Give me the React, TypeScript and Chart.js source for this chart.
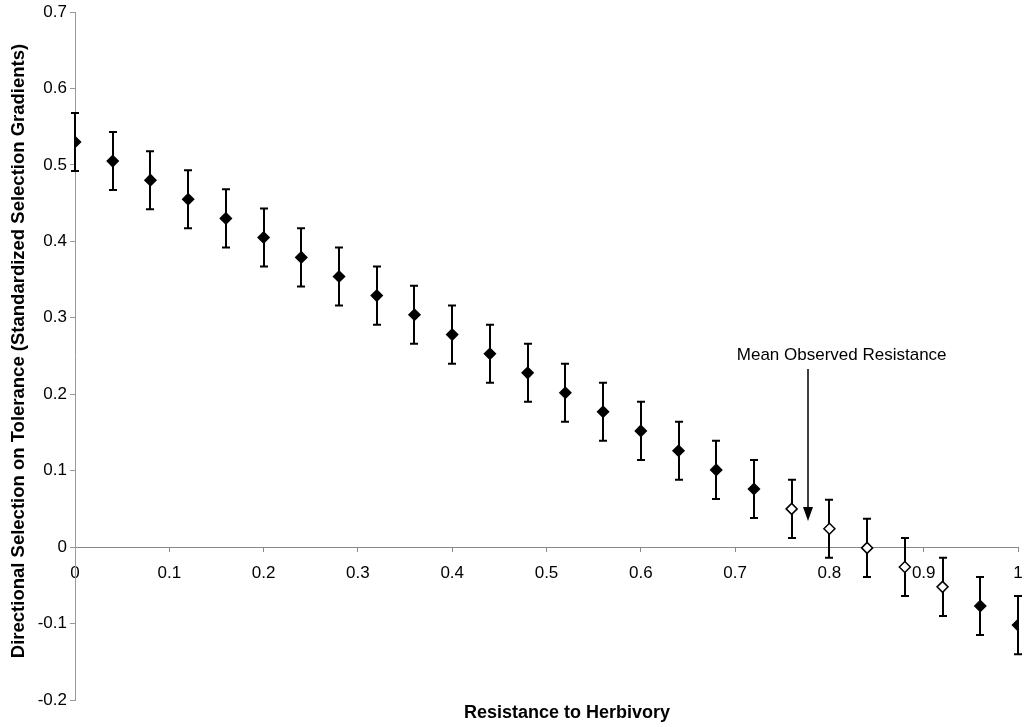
import React, { useEffect, useRef } from "react";
import { Chart, registerables } from "chart.js";

Chart.register(...registerables);

// Resistance to herbivory (x) for each estimate
const resistance = [
  0, 0.04, 0.08, 0.12, 0.16, 0.2, 0.24, 0.28, 0.32, 0.36, 0.4, 0.44, 0.48,
  0.52, 0.56, 0.6, 0.64, 0.68, 0.72, 0.76, 0.8, 0.84, 0.88, 0.92, 0.96, 1.0,
];
// Directional selection on tolerance (standardized selection gradients)
const gradient = [
  0.530, 0.505, 0.480, 0.455, 0.430, 0.405, 0.379, 0.354, 0.329, 0.304, 0.278,
  0.253, 0.228, 0.202, 0.177, 0.152, 0.126, 0.101, 0.076, 0.050, 0.024, -0.001,
  -0.026, -0.052, -0.077, -0.102,
];
// Half-length of the error bar
const errorHalf = [
  0.038, 0.038, 0.038, 0.038, 0.038, 0.038, 0.038, 0.038, 0.038, 0.038, 0.038,
  0.038, 0.038, 0.038, 0.038, 0.038, 0.038, 0.038, 0.038, 0.038, 0.038, 0.038,
  0.038, 0.038, 0.038, 0.038,
];
// Open (hollow) markers
const openMarker = [
  false, false, false, false, false, false, false, false, false, false, false,
  false, false, false, false, false, false, false, false, true, true, true,
  true, true, false, false,
];

const xTicks = [0, 0.1, 0.2, 0.3, 0.4, 0.5, 0.6, 0.7, 0.8, 0.9, 1];
const yTicks = [-0.2, -0.1, 0, 0.1, 0.2, 0.3, 0.4, 0.5, 0.6, 0.7];

const xTitle = "Resistance to Herbivory";
const yTitle =
  "Directional Selection on Tolerance (Standardized Selection Gradients)";
const annotationText = "Mean Observed Resistance";
const annotationX = 0.777;
const annotationTop = 0.233;
const annotationTip = 0.034;
const annotationLabelX = 0.813;
const annotationLabelY = 0.251;

const FONT = '"Liberation Sans", Arial, Helvetica, sans-serif';

function fmt(v: number): string {
  const r = Math.round(v * 10) / 10;
  if (r === 0) return "0";
  if (r === 1) return "1";
  return r.toFixed(1);
}

const errorBarPlugin = {
  id: "errorBars",
  beforeDatasetsDraw(chart: any) {
    const { ctx, scales } = chart;
    const xs = scales.x;
    const ys = scales.y;
    ctx.save();
    ctx.strokeStyle = "#000";
    ctx.lineWidth = 2;
    const cap = 4;
    for (let i = 0; i < resistance.length; i++) {
      const px = Math.round(xs.getPixelForValue(resistance[i]));
      const top = ys.getPixelForValue(gradient[i] + errorHalf[i]);
      const bot = ys.getPixelForValue(gradient[i] - errorHalf[i]);
      ctx.beginPath();
      ctx.moveTo(px, top);
      ctx.lineTo(px, bot);
      ctx.moveTo(px - cap, top);
      ctx.lineTo(px + cap, top);
      ctx.moveTo(px - cap, bot);
      ctx.lineTo(px + cap, bot);
      ctx.stroke();
    }
    ctx.restore();
  },
  afterDraw(chart: any) {
    const { ctx, scales } = chart;
    const xs = scales.x;
    const ys = scales.y;
    ctx.save();
    // annotation arrow
    const ax = Math.round(xs.getPixelForValue(annotationX));
    const aTop = ys.getPixelForValue(annotationTop);
    const aTip = ys.getPixelForValue(annotationTip);
    ctx.strokeStyle = "#000";
    ctx.fillStyle = "#000";
    ctx.lineWidth = 1.5;
    ctx.beginPath();
    ctx.moveTo(ax, aTop);
    ctx.lineTo(ax, aTip - 12);
    ctx.stroke();
    ctx.beginPath();
    ctx.moveTo(ax - 5, aTip - 14);
    ctx.lineTo(ax + 5, aTip - 14);
    ctx.lineTo(ax, aTip);
    ctx.closePath();
    ctx.fill();
    // annotation label
    ctx.font = `17px ${FONT}`;
    ctx.textAlign = "center";
    ctx.textBaseline = "middle";
    ctx.fillText(
      annotationText,
      xs.getPixelForValue(annotationLabelX),
      ys.getPixelForValue(annotationLabelY)
    );
    // axis titles
    ctx.font = `bold 18px ${FONT}`;
    ctx.fillText(xTitle, 567, 713);
    ctx.font = `bold 18.5px ${FONT}`;
    ctx.translate(19, 351);
    ctx.rotate(-Math.PI / 2);
    ctx.fillText(yTitle, 0, 0);
    ctx.restore();
  },
};

export default function App() {
  const ref = useRef<HTMLCanvasElement | null>(null);
  useEffect(() => {
    if (!ref.current) return;
    const chart = new Chart(ref.current, {
      type: "scatter",
      data: {
        datasets: [
          {
            data: resistance.map((x, i) => ({ x, y: gradient[i] })),
            pointStyle: "rectRot",
            pointRadius: 5.5,
            pointHoverRadius: 5.5,
            pointBackgroundColor: openMarker.map((o) => (o ? "#fff" : "#000")),
            pointBorderColor: "#000",
            pointBorderWidth: 1.5,
            showLine: false,
          },
        ],
      },
      options: {
        responsive: false,
        animation: false,
        events: [],
        layout: { padding: { top: 12, right: 8, bottom: 27, left: 0 } },
        plugins: {
          legend: { display: false },
          tooltip: { enabled: false },
          title: { display: false },
        },
        scales: {
          x: {
            type: "linear",
            min: 0,
            max: 1,
            position: { y: 0 } as any,
            afterBuildTicks: (s: any) => {
              s.ticks = xTicks.map((v) => ({ value: v }));
            },
            afterFit: (s: any) => {
              s.paddingLeft = 0;
              s.paddingRight = 0;
            },
            ticks: {
              callback: (v: any) => fmt(Number(v)),
              font: { size: 17, family: FONT },
              color: "#000",
              padding: 12,
              maxRotation: 0,
              autoSkip: false,
            },
            grid: {
              drawOnChartArea: false,
              drawTicks: true,
              tickLength: 4,
              color: "#888",
            },
            border: { display: true, color: "#888", width: 1 },
          },
          y: {
            type: "linear",
            min: -0.2,
            max: 0.7,
            afterBuildTicks: (s: any) => {
              s.ticks = yTicks.map((v) => ({ value: v }));
            },
            afterFit: (s: any) => {
              s.width = 75;
              s.paddingTop = 0;
              s.paddingBottom = 0;
            },
            ticks: {
              callback: (v: any) => fmt(Number(v)),
              font: { size: 17, family: FONT },
              color: "#000",
              padding: 3,
              autoSkip: false,
            },
            grid: {
              drawOnChartArea: false,
              drawTicks: true,
              tickLength: 5,
              color: "#999",
            },
            border: { display: true, color: "#999", width: 1 },
          },
        },
      },
      plugins: [errorBarPlugin],
    });
    return () => chart.destroy();
  }, []);
  return (
    <div
      style={{
        position: "absolute",
        left: 0,
        top: 0,
        width: 1026,
        height: 727,
        background: "#fff",
      }}
    >
      <canvas ref={ref} width={1026} height={727} style={{ display: "block" }} />
    </div>
  );
}
